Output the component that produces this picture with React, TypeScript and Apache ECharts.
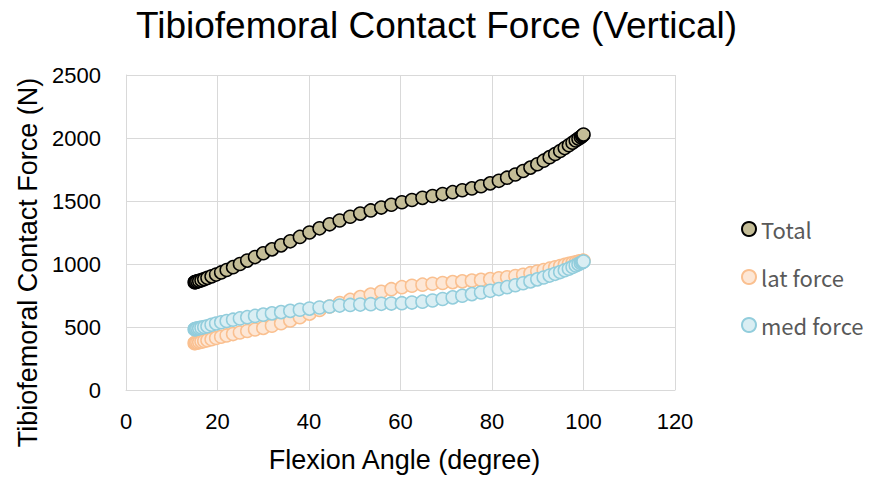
import React, { useEffect, useRef } from "react";
import * as echarts from "echarts";

const flexionAngle = [
  15.0, 15.1, 15.3, 15.6, 16.0, 16.5, 17.1, 17.8, 18.7, 19.7, 20.8, 22.0, 23.4, 24.9, 26.5, 28.2,
  30.0, 31.9, 33.9, 35.9, 38.0, 40.1, 42.3, 44.5, 46.7, 49.0, 51.2, 53.5, 55.8, 58.0, 60.3, 62.5,
  64.8, 67.0, 69.2, 71.4, 73.5, 75.6, 77.6, 79.6, 81.5, 83.3, 85.1, 86.8, 88.4, 89.9, 91.3, 92.6,
  93.8, 94.9, 95.9, 96.8, 97.6, 98.3, 98.9, 99.4, 99.7, 99.9, 100.0,
];

const totalForce = [
  855, 856, 858, 862, 866, 872, 880, 890, 902, 916, 933, 952, 975, 1000, 1027, 1055,
  1085, 1116, 1148, 1180, 1215, 1250, 1283, 1315, 1345, 1375, 1400, 1425, 1448, 1470, 1490, 1508,
  1525, 1540, 1555, 1570, 1585, 1600, 1617, 1640, 1660, 1685, 1710, 1738, 1765, 1792, 1820, 1848,
  1873, 1897, 1920, 1942, 1962, 1980, 1995, 2007, 2015, 2022, 2028,
];

const latForce = [
  372, 373, 375, 377, 380, 384, 389, 395, 403, 413, 423, 433, 444, 456, 468, 480,
  493, 510, 530, 552, 578, 606, 635, 663, 690, 715, 737, 757, 780, 800, 816, 827,
  836, 843, 849, 856, 862, 868, 874, 880, 887, 895, 904, 915, 927, 940, 952, 963,
  974, 984, 993, 1001, 1008, 1014, 1019, 1022, 1024, 1025, 1026,
];

const medForce = [
  482, 483, 485, 488, 491, 495, 500, 506, 518, 528, 538, 548, 558, 568, 578, 588,
  598, 608, 618, 628, 637, 646, 655, 663, 670, 675, 678, 681, 684, 686, 689, 694,
  701, 710, 722, 735, 748, 761, 774, 787, 801, 816, 831, 847, 862, 878, 893, 908,
  922, 936, 950, 963, 976, 988, 999, 1008, 1014, 1018, 1020,
];

const xTicks = { min: 0, max: 120, interval: 20 };
const yTicks = { min: 0, max: 2500, interval: 500 };

const toPoints = (ys: number[]) => flexionAngle.map((x, i) => [x, ys[i]]);

export default function App() {
  const ref = useRef<HTMLDivElement>(null);
  useEffect(() => {
    if (!ref.current) return;
    const chart = echarts.init(ref.current, null, { renderer: "svg" });
    const axisFont = "'Liberation Sans', Arial, sans-serif";
    chart.setOption({
      animation: false,
      backgroundColor: "#ffffff",
      title: {
        text: "Tibiofemoral Contact Force (Vertical)",
        left: "center",
        top: 2,
        textStyle: { fontFamily: axisFont, fontSize: 37, fontWeight: "normal", color: "#000000" },
      },
      grid: { left: 126, right: 198, top: 75, bottom: 82 },
      legend: {
        orient: "vertical",
        left: 736,
        top: 212,
        itemWidth: 14,
        itemHeight: 14,
        itemGap: 24,
        icon: "circle",
        textStyle: {
          fontFamily: "'Noto Sans CJK KR', 'Noto Sans', sans-serif",
          fontSize: 22,
          lineHeight: 24,
          color: "#595959",
          padding: [0, 0, 0, 0],
        },
        data: ["Total", "lat force", "med force"],
      },
      xAxis: {
        type: "value",
        min: xTicks.min,
        max: xTicks.max,
        interval: xTicks.interval,
        name: "Flexion Angle (degree)",
        nameLocation: "middle",
        nameGap: 56,
        nameTextStyle: { fontFamily: axisFont, fontSize: 27, color: "#000000", padding: [0, 0, 0, 8] },
        axisLine: { show: true, lineStyle: { color: "#d9d9d9", width: 1 } },
        axisTick: { show: false },
        axisLabel: { fontFamily: axisFont, fontSize: 22, color: "#000000", margin: 20 },
        splitLine: { show: true, lineStyle: { color: "#d9d9d9", width: 1 } },
      },
      yAxis: {
        type: "value",
        min: yTicks.min,
        max: yTicks.max,
        interval: yTicks.interval,
        name: "Tibiofemoral Contact Force (N)",
        nameLocation: "middle",
        nameGap: 80,
        nameTextStyle: { fontFamily: axisFont, fontSize: 27, color: "#000000", padding: [0, 60, 0, 0] },
        axisLine: { show: true, lineStyle: { color: "#d9d9d9", width: 1 } },
        axisTick: { show: false },
        axisLabel: {
          fontFamily: axisFont,
          fontSize: 22,
          color: "#000000",
          margin: 25,
          formatter: (v: number) => String(v),
        },
        splitLine: { show: true, lineStyle: { color: "#d9d9d9", width: 1 } },
      },
      series: [
        {
          name: "Total",
          type: "scatter",
          symbol: "circle",
          symbolSize: 13,
          data: toPoints(totalForce),
          itemStyle: { color: "#c4bd97", borderColor: "#000000", borderWidth: 1.5, opacity: 1 },
        },
        {
          name: "lat force",
          type: "scatter",
          symbol: "circle",
          symbolSize: 13,
          data: toPoints(latForce),
          itemStyle: { color: "#fde7d6", borderColor: "#fac090", borderWidth: 1.5, opacity: 1 },
        },
        {
          name: "med force",
          type: "scatter",
          symbol: "circle",
          symbolSize: 13,
          data: toPoints(medForce),
          itemStyle: { color: "#daeef3", borderColor: "#92cddc", borderWidth: 1.5, opacity: 1 },
        },
      ],
    });
    return () => chart.dispose();
  }, []);
  return (
    <div
      ref={ref}
      style={{ position: "absolute", left: 0, top: 0, width: 873, height: 478 }}
    />
  );
}
